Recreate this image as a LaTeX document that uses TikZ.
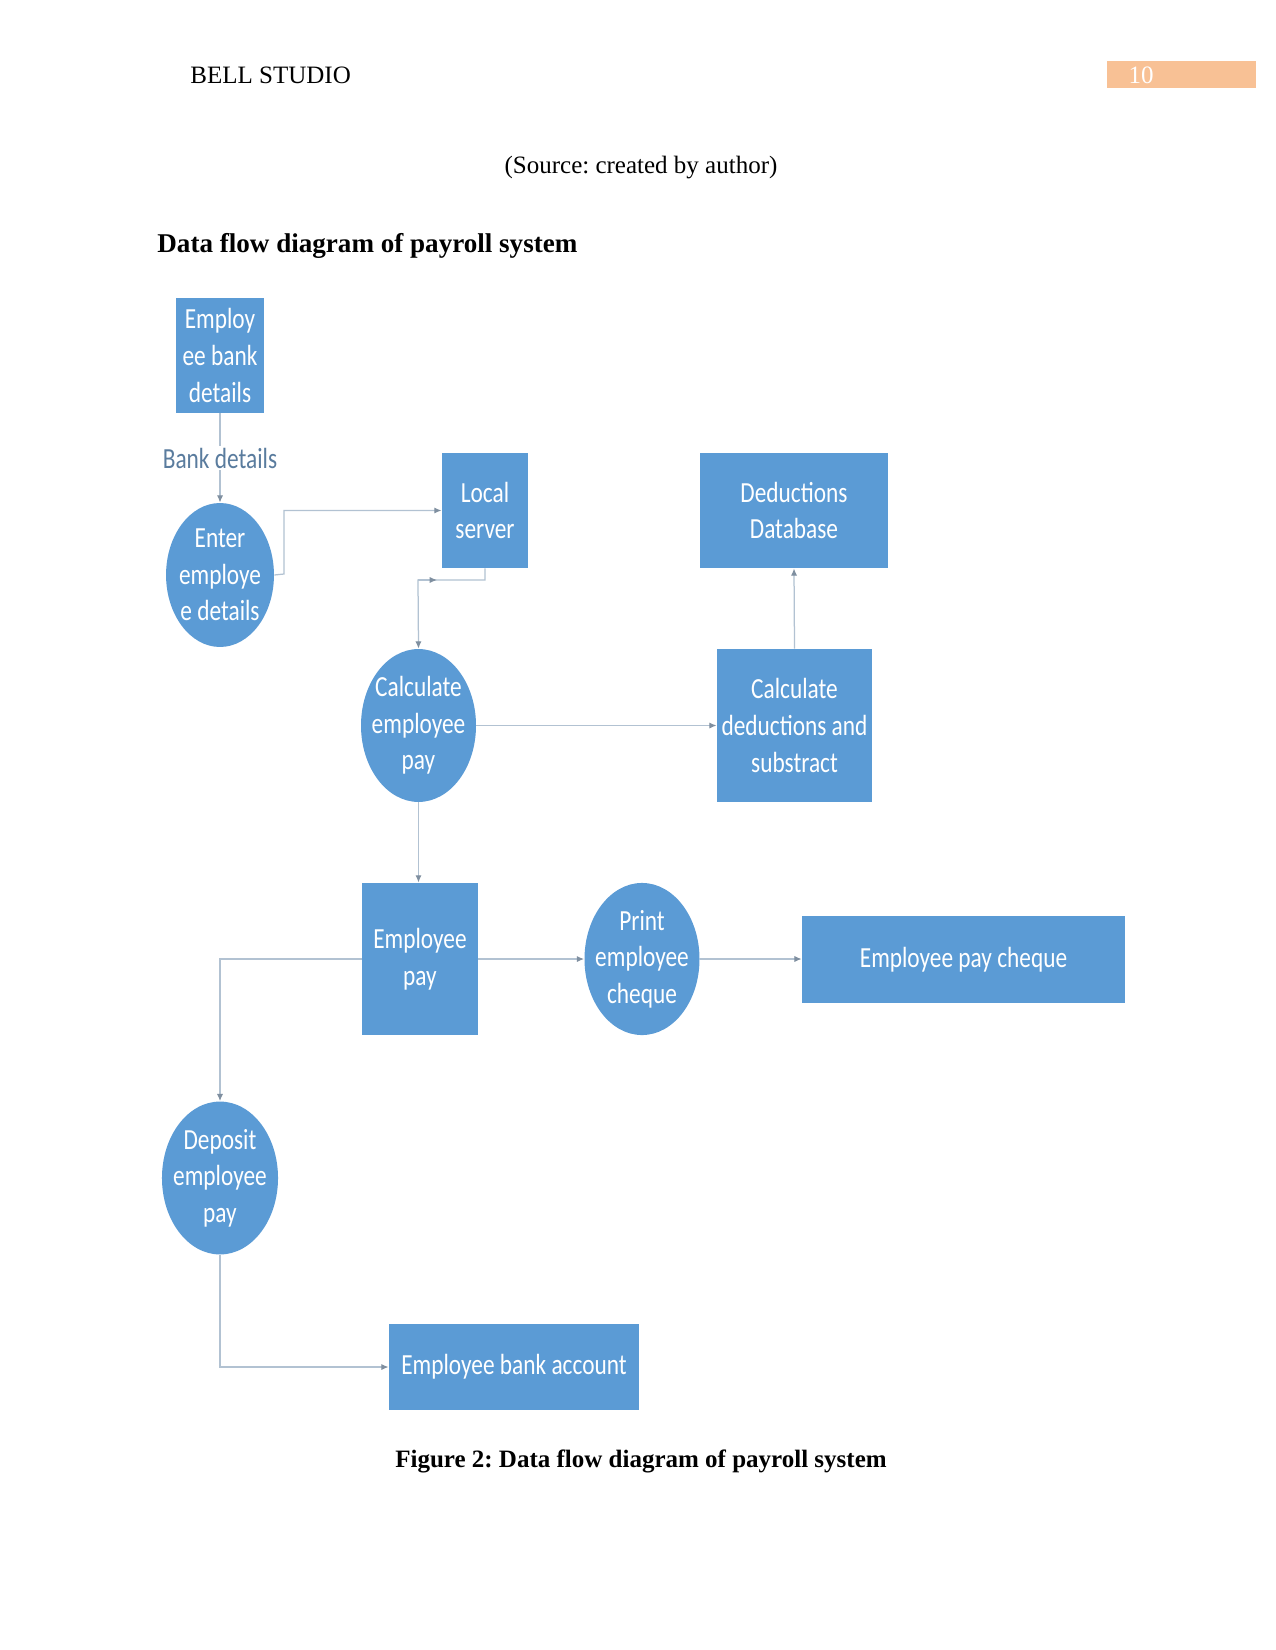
\documentclass[tikz,border=0pt]{standalone}
\usepackage{fontspec}
\setmainfont{Liberation Serif}
\newfontfamily\boxfont[FakeStretch=0.8]{Carlito}
\usetikzlibrary{shapes.geometric,arrows.meta}
\frenchspacing
\definecolor{boxblue}{HTML}{5B9BD5}
\definecolor{conncol}{HTML}{B2C2D2}
\definecolor{tipcol}{HTML}{7F8FA0}
\definecolor{orangebar}{HTML}{F8C195}
\definecolor{labelcol}{HTML}{5A7C9E}
\tikzset{
  boxtxt/.style={font=\boxfont\fontsize{14}{17.6}\selectfont, text=white, align=center},
  store/.style={boxtxt, rectangle, fill=boxblue, inner sep=0pt},
  proc/.style={ellipse, fill=boxblue, inner sep=0pt},
  conn/.style={draw=conncol, line width=0.6pt, -{Latex[length=3.5pt,width=3pt,color=tipcol]}},
  pagetxt/.style={font=\fontsize{12}{14}\selectfont, inner sep=0pt},
  headtxt/.style={font=\bfseries\fontsize{12}{14}\selectfont, inner sep=0pt}
}
\begin{document}
\begin{tikzpicture}[x=0.48pt,y=-0.48pt]
\useasboundingbox[fill=white] (0,0) rectangle (1275,1650);
% header
\node[pagetxt, anchor=west] (head) at (190,75) {BELL STUDIO};
\node[fill=orangebar, minimum width=71.5pt, minimum height=13pt, inner sep=0pt] (bar) at (1181.5,74.5) {};
\node[pagetxt, text=white] (pnum) at (1141,75) {10};
\node[pagetxt] (src) at (641,168) {(Source: created by author)};
\node[headtxt, font=\bfseries\fontsize{13}{15}\selectfont, anchor=west] (title) at (157,246) {Data flow diagram of payroll system};
% stores
\node[store, minimum width=42.2pt, minimum height=55.2pt] (ebd) at (220,355.5) {Employ\\ee bank\\details};
\node[store, minimum width=41.3pt, minimum height=55.2pt] (ls) at (485,510.5) {Local\\server};
\node[store, minimum width=90.2pt, minimum height=55.2pt] (ddb) at (794,510.5) {Deductions\\Database};
\node[store, minimum width=74.4pt, minimum height=73.4pt] (cded) at (794.5,725.5) {Calculate\\deductions and\\substract};
\node[store, minimum width=55.7pt, minimum height=73pt] (epay) at (420,959) {Employee\\pay};
\node[store, minimum width=155pt, minimum height=41.8pt] (chq) at (963.5,959.5) {Employee pay cheque};
\node[store, minimum width=120pt, minimum height=41.3pt] (bank) at (514,1367) {Employee bank account};
% processes
\node[proc, minimum width=51.8pt, minimum height=69.1pt, label={[boxtxt]center:{Enter\\employe\\e details}}] (enter) at (220,575) {};
\node[proc, minimum width=55.2pt, minimum height=73.4pt, label={[boxtxt]center:{Calculate\\employee\\pay}}] (cpay) at (418.5,725.5) {};
\node[proc, minimum width=55.2pt, minimum height=73pt, label={[boxtxt]center:{Print\\employee\\cheque}}] (print) at (642,959) {};
\node[proc, minimum width=55.7pt, minimum height=73.4pt, label={[boxtxt]center:{Deposit\\employee\\pay}}] (dep) at (220,1178) {};
% connectors
\draw[conn] (ebd.south) -- node[fill=white, inner sep=1pt, font=\boxfont\fontsize{14}{16}\selectfont, text=labelcol] (bdl) {Bank details} (enter.north);
\coordinate (k1) at (284,574);
\draw[conn] (enter.east) -- (k1) |- (ls.west);
\coordinate (j1) at (418,580);
\coordinate (j2) at (437,580);
\draw[conn] (ls.south) |- (j1) -- (cpay.north);
\draw[conn] (j1) -- (j2);
\draw[conn] (cpay.east) -- (cded.west);
\draw[conn] (cded.north) -- (ddb.south);
\draw[conn] (cpay.south) -- (cpay.south |- epay.north);
\draw[conn] (epay.east) -- (print.west);
\draw[conn] (print.east) -- (print.east -| chq.west);
\draw[conn] (epay.west) -| (dep.north);
\draw[conn] (dep.south) |- (bank.west);
% caption
\node[headtxt] (cap) at (641,1461) {Figure 2: Data flow diagram of payroll system};
\end{tikzpicture}
\end{document}
